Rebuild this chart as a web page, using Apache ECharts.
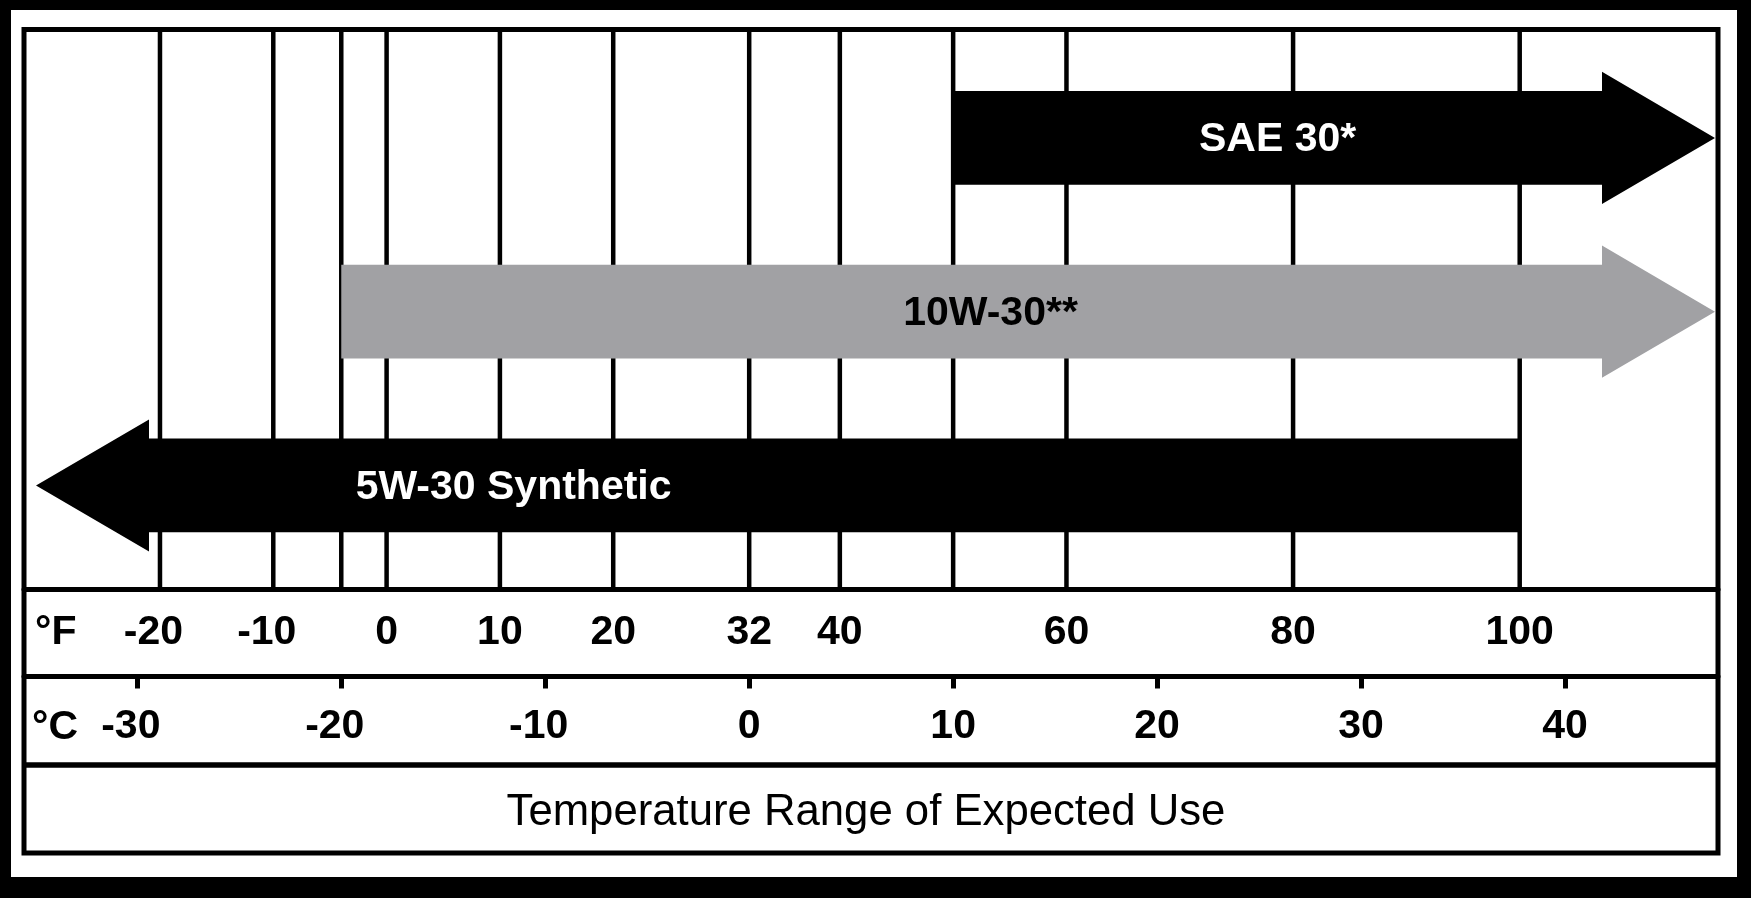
<!DOCTYPE html>
<html>
<head>
<meta charset="utf-8">
<script src="https://cdn.jsdelivr.net/npm/echarts@6/dist/echarts.min.js"></script>
<style>
html,body{margin:0;padding:0;background:#000;}
#chart{width:1751px;height:898px;}
</style>
</head>
<body>
<div id="chart"></div>
<script>
// ---- data ----
const products = ['SAE 30*', '10W-30**', '5W-30 Synthetic'];
const rangeFromF = [50, -4, null];   // °F, null = open-ended (and colder)
const rangeToF = [null, null, 100];  // °F, null = open-ended (and warmer)
const fLabels = [-20, -10, 0, 10, 20, 32, 40, 60, 80, 100];
const fGridLines = [-20, -10, -4, 0, 10, 20, 32, 40, 50, 60, 80, 100];
const cLabels = [-30, -20, -10, 0, 10, 20, 30, 40];
const titleText = 'Temperature Range of Expected Use';

// ---- axis range / styles ----
const F_MIN = -32, F_MAX = 117.5;
const toC = f => (f - 32) / 1.8;
const FONT = '"Liberation Sans", Arial, Helvetica, sans-serif';
const arrowStyle = {
  'SAE 30*': {fill: '#000000', text: '#ffffff', labelAt: 0.5},
  '10W-30**': {fill: '#a1a1a4', text: '#000000', labelAt: 0.515},
  '5W-30 Synthetic': {fill: '#000000', text: '#ffffff', labelAt: 0.266}
};
const HEAD = 113;

const labelRich = {
  neg: {fontSize: 41, fontWeight: 'bold', fontFamily: FONT, color: '#000', padding: [0, 13, 0, 0]},
  pos: {fontSize: 41, fontWeight: 'bold', fontFamily: FONT, color: '#000'}
};
const labelFmt = v => (v < 0 ? '{neg|' + v + '}' : '{pos|' + v + '}');

const chart = echarts.init(document.getElementById('chart'));
chart.setOption({
  backgroundColor: '#000',
  animation: false,
  grid: [
    {left: 24, right: 33, top: 29.5, bottom: 309},
    {left: 24, right: 33, top: 51, bottom: 325.7}
  ],
  xAxis: [
    {
      gridIndex: 0, type: 'value', min: F_MIN, max: F_MAX, position: 'bottom',
      axisLine: {show: true, onZero: false, lineStyle: {color: '#000', width: 5}},
      axisTick: {show: false}, splitLine: {show: false},
      axisLabel: {customValues: fLabels, margin: 23, formatter: labelFmt, rich: labelRich}
    },
    {
      gridIndex: 0, type: 'value', min: toC(F_MIN), max: toC(F_MAX), position: 'bottom', offset: 87.5,
      axisLine: {show: true, onZero: false, lineStyle: {color: '#000', width: 5}},
      axisTick: {show: true, customValues: cLabels, length: 12, lineStyle: {color: '#000', width: 5}},
      splitLine: {show: false},
      axisLabel: {customValues: cLabels, margin: 30, formatter: labelFmt, rich: labelRich}
    },
    {gridIndex: 1, type: 'value', min: F_MIN, max: F_MAX, show: false}
  ],
  yAxis: [
    {gridIndex: 0, type: 'value', min: 0, max: 1, show: false},
    {gridIndex: 1, type: 'category', data: products, inverse: true, show: false}
  ],
  graphic: {
    elements: [
      {type: 'rect', z: -100, shape: {x: 11, y: 10, width: 1726, height: 867}, style: {fill: '#ffffff'}},
      {type: 'rect', z: 100, shape: {x: 24, y: 29.5, width: 1694, height: 823.5}, style: {fill: 'none', stroke: '#000', lineWidth: 5}},
      {type: 'line', z: 100, shape: {x1: 24, y1: 765, x2: 1718, y2: 765}, style: {stroke: '#000', lineWidth: 5.5}},
      {type: 'text', z: 100, style: {text: '°F', x: 35, y: 632.5, verticalAlign: 'middle', align: 'left', fill: '#000', font: 'bold 41px ' + FONT}},
      {type: 'text', z: 100, style: {text: '°C', x: 32, y: 727.5, verticalAlign: 'middle', align: 'left', fill: '#000', font: 'bold 41px ' + FONT}},
      {type: 'text', z: 100, style: {text: titleText, x: 866, y: 813, verticalAlign: 'middle', align: 'center', fill: '#000', font: '43.7px ' + FONT}}
    ]
  },
  series: [
    {
      type: 'custom', xAxisIndex: 0, yAxisIndex: 0, z: 1, silent: true,
      data: fGridLines.map(v => [v, 0.5]),
      renderItem: function (params, api) {
        const cs = params.coordSys;
        const x = api.coord([api.value(0), 0.5])[0];
        return {type: 'line', shape: {x1: x, y1: cs.y, x2: x, y2: cs.y + cs.height}, style: {stroke: '#000', lineWidth: 4.5}};
      }
    },
    {
      type: 'custom', xAxisIndex: 2, yAxisIndex: 1, z: 3, silent: true,
      encode: {x: [0, 1], y: 2},
      data: products.map((p, i) => [rangeFromF[i] === null ? F_MIN : rangeFromF[i], rangeToF[i] === null ? F_MAX : rangeToF[i], i]),
      renderItem: function (params, api) {
        const idx = params.dataIndex;
        const name = products[idx];
        const st = arrowStyle[name];
        const cs = params.coordSys;
        const cat = api.value(2);
        const yc = api.coord([api.value(0), cat])[1];
        const band = api.size([0, 1])[1];
        const bh = band * 0.54 / 2, hh = band * 0.76 / 2;
        let pts, bodyL, bodyR;
        if (rangeToF[idx] === null) {
          const tip = cs.x + cs.width - 3;
          bodyL = api.coord([api.value(0), cat])[0];
          bodyR = tip - HEAD;
          pts = [[bodyL, yc - bh], [bodyR, yc - bh], [bodyR, yc - hh], [tip, yc], [bodyR, yc + hh], [bodyR, yc + bh], [bodyL, yc + bh]];
        } else {
          const tip = cs.x + 12;
          bodyL = tip + HEAD;
          bodyR = api.coord([api.value(1), cat])[0];
          pts = [[bodyR, yc - bh], [bodyL, yc - bh], [bodyL, yc - hh], [tip, yc], [bodyL, yc + hh], [bodyL, yc + bh], [bodyR, yc + bh]];
        }
        return {
          type: 'group',
          children: [
            {type: 'polygon', shape: {points: pts}, style: {fill: st.fill}},
            {type: 'text', style: {text: name, x: bodyL + (bodyR - bodyL) * st.labelAt, y: yc + 2, align: 'center', verticalAlign: 'middle', fill: st.text, font: 'bold 41px ' + FONT}}
          ]
        };
      }
    }
  ]
});
</script>
</body>
</html>
